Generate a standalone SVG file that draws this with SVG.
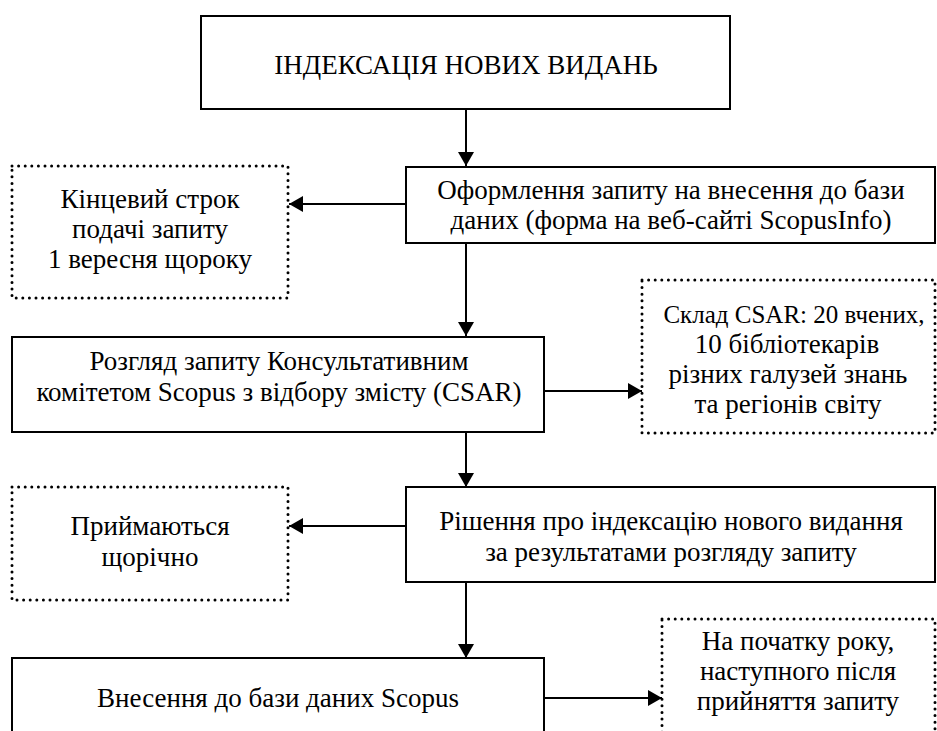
<svg xmlns="http://www.w3.org/2000/svg" width="937" height="731" viewBox="0 0 937 731">
<style>
  .box { fill: #fff; stroke: #000; stroke-width: 2; }
  .dot { fill: #fff; stroke: #000; stroke-width: 3; stroke-dasharray: 0 6.6; stroke-linecap: round; }
  .t { font-family: "Liberation Serif", "Times New Roman", serif; font-size: 27px; fill: #000; text-anchor: middle; }
  .c { stroke: #000; stroke-width: 2; fill: none; marker-end: url(#ah); }
</style>
<defs>
  <marker id="ah" markerUnits="userSpaceOnUse" markerWidth="14" markerHeight="16" refX="14" refY="8" orient="auto">
    <path d="M0,0 L14,8 L0,16 Z" fill="#000"/>
  </marker>
</defs>
<rect width="937" height="731" fill="#fff"/>

<g id="connectors">
  <line class="c" x1="466" y1="110" x2="466" y2="166"/>
  <line class="c" x1="406" y1="204" x2="289" y2="204"/>
  <line class="c" x1="466" y1="243" x2="466" y2="336"/>
  <line class="c" x1="544" y1="391" x2="642" y2="391"/>
  <line class="c" x1="466" y1="432" x2="466" y2="487"/>
  <line class="c" x1="406" y1="526" x2="289" y2="526"/>
  <line class="c" x1="466" y1="582" x2="466" y2="658"/>
  <line class="c" x1="544" y1="698" x2="662" y2="698"/>
</g>

<g id="n-indexing">
  <rect class="box" x="201" y="16" width="529" height="93"/>
  <text class="t" x="466" y="74">ІНДЕКСАЦІЯ НОВИХ ВИДАНЬ</text>
</g>

<g id="n-request">
  <rect class="box" x="406" y="167" width="529" height="76"/>
  <text class="t" x="671" y="199">Оформлення запиту на внесення до бази</text>
  <text class="t" x="671" y="229">даних (форма на веб-сайті ScopusInfo)</text>
</g>

<g id="n-deadline">
  <rect class="dot" x="12" y="166" width="276" height="132"/>
  <text class="t" x="150" y="208">Кінцевий строк</text>
  <text class="t" x="150" y="238">подачі запиту</text>
  <text class="t" x="150" y="268">1 вересня щороку</text>
</g>

<g id="n-review">
  <rect class="box" x="12" y="337" width="532" height="95"/>
  <text class="t" x="279" y="370">Розгляд запиту Консультативним</text>
  <text class="t" x="279" y="401">комітетом Scopus з відбору змісту (CSAR)</text>
</g>

<g id="n-csar">
  <rect class="dot" x="642" y="280" width="293" height="153"/>
  <text class="t" x="794" y="323" style="font-size:25px">Склад CSAR: 20 вчених,</text>
  <text class="t" x="787" y="353">10 бібліотекарів</text>
  <text class="t" x="788" y="383">різних галузей знань</text>
  <text class="t" x="788" y="413">та регіонів світу</text>
</g>

<g id="n-decision">
  <rect class="box" x="406" y="487" width="529" height="95"/>
  <text class="t" x="671" y="530">Рішення про індексацію нового видання</text>
  <text class="t" x="671" y="561">за результатами розгляду запиту</text>
</g>

<g id="n-annual">
  <rect class="dot" x="12" y="487" width="276" height="113"/>
  <text class="t" x="150" y="535">Приймаються</text>
  <text class="t" x="150" y="566">щорічно</text>
</g>

<g id="n-scopus">
  <rect class="box" x="12" y="658" width="532" height="100"/>
  <text class="t" x="278" y="707">Внесення до бази даних Scopus</text>
</g>

<g id="n-start">
  <rect class="dot" x="662" y="619" width="273" height="140"/>
  <text class="t" x="798" y="650">На початку року,</text>
  <text class="t" x="798" y="680">наступного після</text>
  <text class="t" x="798" y="710">прийняття запиту</text>
</g>
</svg>
